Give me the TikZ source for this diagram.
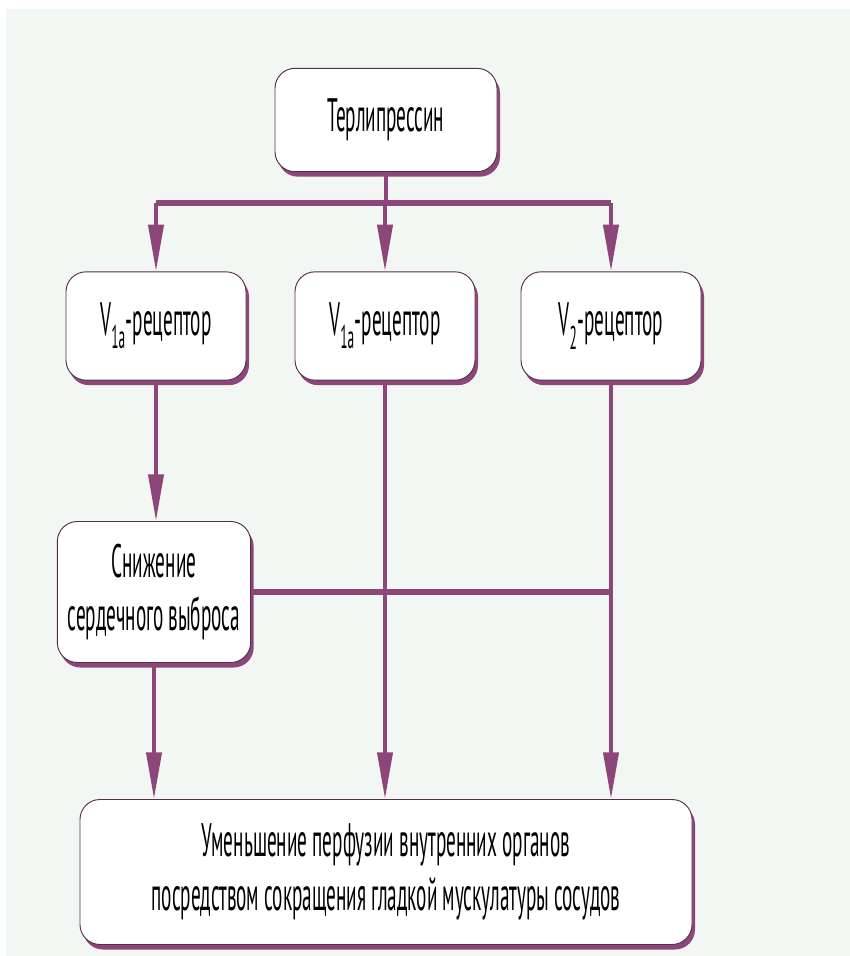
\documentclass[tikz,border=0pt]{standalone}
\usepackage{fontspec}
\setmainfont{PT Sans}[FakeStretch=0.41]
\usetikzlibrary{arrows.meta,shadows}
\definecolor{plum}{HTML}{8C4679}
\definecolor{plumdark}{HTML}{55304A}
\definecolor{paper}{HTML}{F3F7F3}
\tikzset{
    box/.style ={
        shape=rectangle,
        rounded corners=0.6cm,
        draw=plumdark,
        line width=0.8pt,
        fill=white,
        general shadow={fill=plum, shadow xshift=0.09cm, shadow yshift=-0.15cm},
        align=center,
        inner sep=0pt,
        font=\fontsize{40}{46}\selectfont
    },
    link/.style ={
        draw=plum,
        line width=3.4pt
    },
    bar/.style ={
        draw=plum,
        line width=5pt
    },
    tip/.style ={
        -{Triangle[length=1.4cm,width=0.45cm]}
    }
}

\begin{document}
\begin{tikzpicture}[x=0.03cm,y=-0.03cm]
        \useasboundingbox[fill=white] (0,0) rectangle (850,956);
        \fill[paper] (6,9) rectangle (850,956);
        \node[box, minimum width=6.66cm, minimum height=3.1cm] (terli) at (386,120) {Терлипрессин};
        \node[box, minimum width=5.4cm, minimum height=3.25cm] (r1) at (156,326) {V\textsubscript{1a}-рецептор};
        \node[box, minimum width=5.4cm, minimum height=3.25cm] (r2) at (385,326) {V\textsubscript{1a}-рецептор};
        \node[box, minimum width=5.4cm, minimum height=3.25cm] (r3) at (611,326) {V\textsubscript{2}-рецептор};
        \node[box, minimum width=5.8cm, minimum height=4.23cm] (sn) at (154,592) {Снижение\\сердечного выброса};
        \node[box, minimum width=18.36cm, minimum height=4.35cm] (organs) at (386,872) {Уменьшение перфузии внутренних органов\\посредством сокращения гладкой мускулатуры сосудов};
        \coordinate (hl) at (156,203);
        \coordinate (hr) at (611,203);
        % branching from the top
        \draw[link] (terli.south) -- (terli.south |- hl);
        \draw[bar] (hl) -- (hr);
        \draw[link,tip] (hl) -- (r1.north);
        \draw[link,tip] (r2.north |- hl) -- (r2.north);
        \draw[link,tip] (hr) -- (r3.north);
        % down to the effects
        \draw[link,tip] (r1.south) -- (r1.south |- sn.north);
        \draw[bar] (sn.east) -- (sn.east -| r3.south);
        \draw[link,tip] (sn.south) -- (sn.south |- organs.north);
        \draw[link,tip] (r2.south) -- (r2.south |- organs.north);
        \draw[link,tip] (r3.south) -- (r3.south |- organs.north);
    \end{tikzpicture}
\end{document}
